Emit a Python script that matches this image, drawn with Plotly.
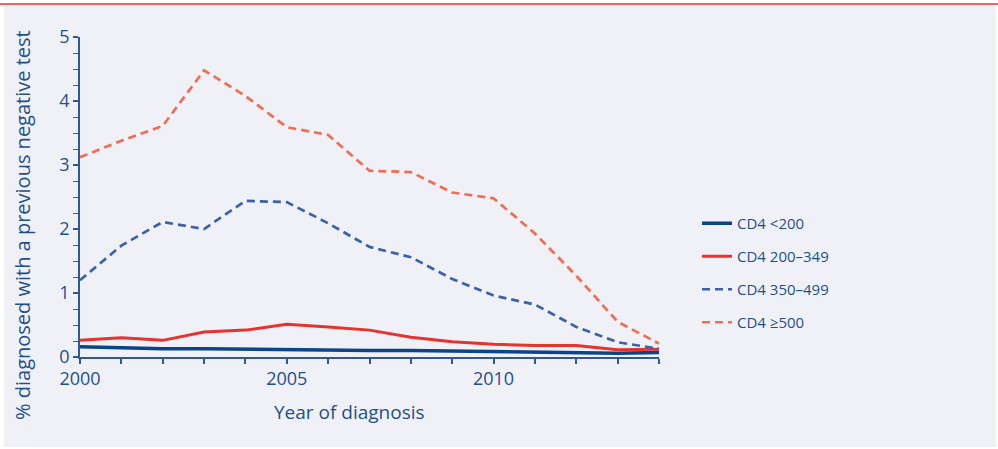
import plotly.graph_objects as go

years = list(range(2000, 2015))
cd4_lt200 = [0.16, 0.14, 0.13, 0.13, 0.12, 0.115, 0.11, 0.10, 0.10, 0.09, 0.08, 0.07, 0.07, 0.06, 0.07]
cd4_200_349 = [0.26, 0.30, 0.26, 0.39, 0.42, 0.51, 0.47, 0.42, 0.31, 0.24, 0.20, 0.18, 0.18, 0.115, 0.12]
cd4_350_499 = [1.20, 1.74, 2.11, 2.00, 2.44, 2.42, 2.09, 1.72, 1.56, 1.22, 0.96, 0.82, 0.47, 0.23, 0.13]
cd4_ge500 = [3.12, 3.38, 3.61, 4.48, 4.08, 3.59, 3.47, 2.91, 2.89, 2.57, 2.48, 1.93, 1.27, 0.55, 0.21]
series_names = ["CD4 <200", "CD4 200\u2013349", "CD4 350\u2013499", "CD4 \u2265500"]

TXT = "#1f4f8f"
AX = "#2d5a96"
FONT = "Open Sans"

styles = [
    dict(color="#0c4587", width=3.5, dash="solid"),
    dict(color="#e8322e", width=3, dash="solid"),
    dict(color="#3a62a8", width=2.7, dash="8px,5px"),
    dict(color="#f06c52", width=2.7, dash="8px,5px"),
]
data = [cd4_lt200, cd4_200_349, cd4_350_499, cd4_ge500]

fig = go.Figure()
for i, (name, vals, st) in enumerate(zip(series_names, data, styles)):
    fig.add_trace(go.Scatter(x=years, y=vals, mode="lines", name=name,
                             line=st, legendgroup=str(i)))

L, R, T, B = 80, 339, 37, 92
W, H = 998, 449
pw, ph = W - L - R, H - T - B

def px_x(p):
    return (p - L) / pw

def px_y(p):
    return (H - B - p) / ph

fig.update_layout(
    width=W, height=H,
    margin=dict(l=L, r=R, t=T, b=B),
    paper_bgcolor="white",
    plot_bgcolor="white",
    font=dict(family=FONT, color=TXT, size=15),
    showlegend=True,
    legend=dict(x=px_x(697), y=px_y(207), xanchor="left", yanchor="top",
                bgcolor="rgba(0,0,0,0)", font=dict(size=15, color=TXT),
                traceorder="grouped", tracegroupgap=10.5, itemwidth=30),
    xaxis=dict(range=[2000, 2014], tickmode="linear", tick0=2000, dtick=5,
               ticks="outside", ticklen=5,
               tickcolor=AX, tickwidth=1.5, showline=True, linecolor=AX, linewidth=1.5,
               showgrid=False, zeroline=False, tickfont=dict(size=18, color=TXT),
               minor=dict(dtick=1, tick0=2000, ticks="outside", ticklen=5,
                          tickcolor=AX, tickwidth=1.5, showgrid=False)),
    yaxis=dict(range=[0, 5], tickmode="linear", tick0=0, dtick=1,
               ticks="outside", ticklen=5,
               tickcolor=AX, tickwidth=1.5, showline=True, linecolor=AX, linewidth=1.5,
               showgrid=False, zeroline=False, tickfont=dict(size=18, color=TXT),
               minor=dict(dtick=0.25, tick0=0, ticks="outside", ticklen=5,
                          tickcolor=AX, tickwidth=1.2, showgrid=False)),
    shapes=[
        dict(type="rect", xref="paper", yref="paper", layer="below",
             x0=px_x(4), x1=px_x(996), y0=px_y(447), y1=px_y(5),
             fillcolor="#f0f1f7", line=dict(width=0)),
        dict(type="line", xref="paper", yref="paper",
             x0=px_x(0), x1=px_x(998), y0=px_y(4), y1=px_y(4),
             line=dict(color="#e8322e", width=1.5)),
    ],
    annotations=[
        dict(text="Year of diagnosis", xref="paper", yref="paper",
             x=px_x(349), y=px_y(412), showarrow=False,
             font=dict(size=19, color=TXT), xanchor="center", yanchor="middle"),
        dict(text="% diagnosed with a previous negative test", xref="paper", yref="paper",
             x=px_x(22), y=px_y(225), showarrow=False, textangle=-90,
             font=dict(size=20, color=TXT), xanchor="center", yanchor="middle"),
    ],
)

fig.write_html("out.html", config={"displayModeBar": False},
               post_script="document.body.style.margin='0';document.body.style.overflow='hidden';")
